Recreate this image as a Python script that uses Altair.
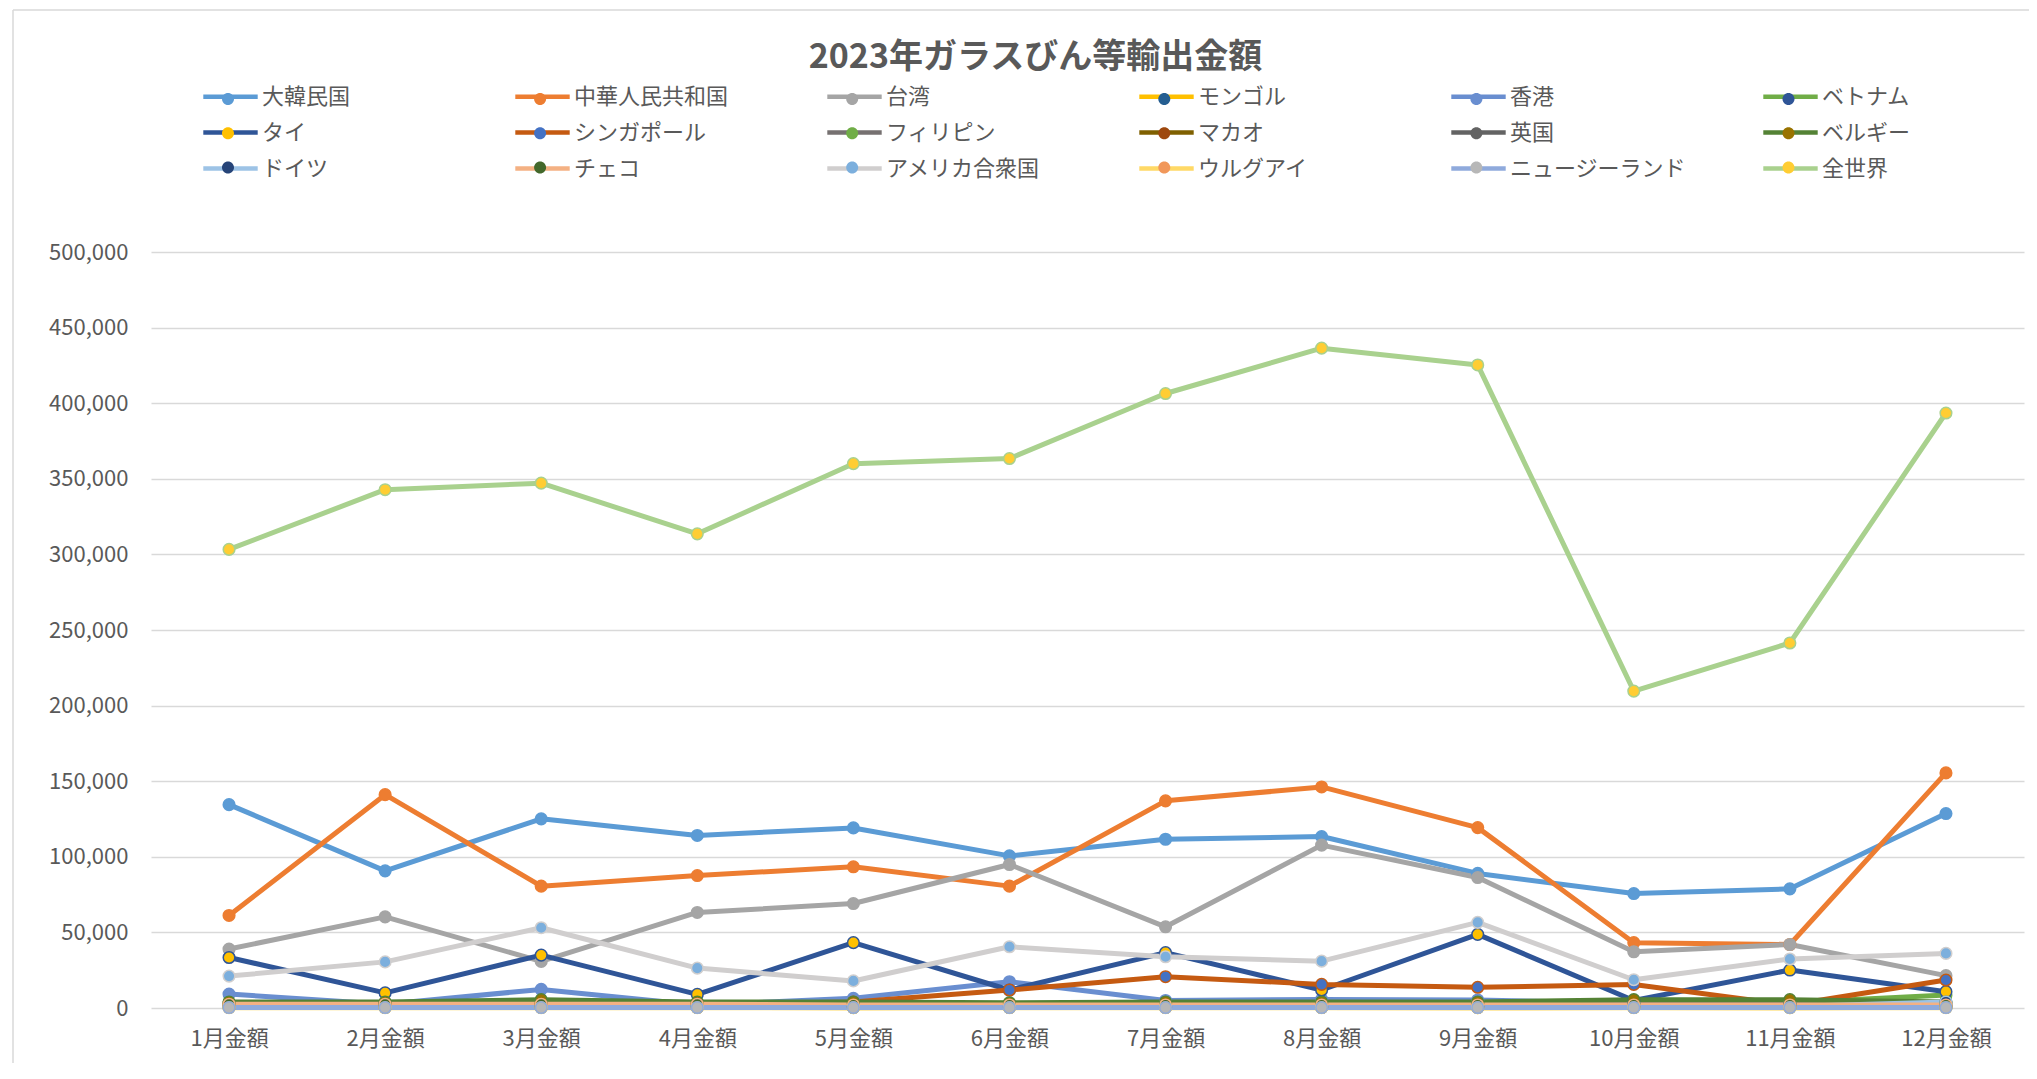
import altair as alt
import pandas as pd

months = ["1月金額", "2月金額", "3月金額", "4月金額", "5月金額", "6月金額",
          "7月金額", "8月金額", "9月金額", "10月金額", "11月金額", "12月金額"]

series_names = ["大韓民国", "中華人民共和国", "台湾", "モンゴル", "香港", "ベトナム",
                "タイ", "シンガポール", "フィリピン", "マカオ", "英国", "ベルギー",
                "ドイツ", "チェコ", "アメリカ合衆国", "ウルグアイ", "ニュージーランド", "全世界"]

line_colors = ["#5B9BD5", "#ED7D31", "#A5A5A5", "#FFC000", "#698ED0", "#70AD47",
               "#2F5597", "#C55A11", "#767171", "#7F6000", "#636363", "#548235",
               "#9DC3E6", "#F4B183", "#D0CECE", "#FFD966", "#8FAADC", "#A9D18E"]

marker_colors = ["#5B9BD5", "#ED7D31", "#A5A5A5", "#255E91", "#698ED0", "#2F5597",
                 "#FFC000", "#4472C4", "#70AD47", "#9E480E", "#636363", "#997300",
                 "#264478", "#43682B", "#7CAFDD", "#F1975A", "#B7B7B7", "#FFCD33"]

korea = [134500, 90700, 125100, 114100, 119100, 100600, 111600, 113400, 89000, 75700, 78800, 128600]
china = [61200, 141100, 80600, 87600, 93400, 80600, 137000, 146200, 119300, 43200, 42000, 155500]
taiwan = [39000, 60300, 30800, 63200, 69100, 94900, 53700, 107700, 86300, 37200, 42000, 21400]
mongolia = [500, 300, 400, 300, 200, 300, 500, 300, 200, 300, 200, 500]
hongkong = [9200, 2500, 12300, 2000, 6400, 17400, 5000, 5700, 5300, 3000, 2500, 2000]
vietnam = [3000, 3000, 3000, 3000, 3000, 2500, 3000, 3500, 3500, 3500, 3500, 8600]
thailand = [33400, 10000, 35000, 9000, 43200, 11900, 36600, 11900, 48700, 5000, 25100, 10800]
singapore = [2000, 2500, 2500, 2500, 4000, 11900, 20700, 15600, 13700, 15600, 2000, 18500]
philippines = [3000, 3000, 3000, 3000, 3000, 3000, 3000, 3000, 3000, 3000, 3000, 3500]
macau = [1000, 1000, 1000, 1000, 1000, 1000, 1000, 1000, 1000, 1000, 1000, 1000]
uk = [300, 300, 300, 300, 300, 300, 300, 300, 300, 300, 300, 300]
belgium = [4000, 4000, 5500, 4000, 4000, 3500, 4000, 4000, 4000, 5500, 5500, 4000]
germany = [1000, 1000, 1000, 1000, 1000, 1000, 1000, 1000, 1000, 1000, 1000, 4000]
czech = [2500, 2500, 2500, 2500, 2000, 2000, 2000, 2000, 2000, 2000, 2000, 2000]
usa = [21100, 30500, 53100, 26400, 17900, 40500, 33900, 31000, 56600, 18700, 32400, 36100]
uruguay = [200, 200, 200, 200, 200, 200, 200, 200, 200, 200, 200, 200]
newzealand = [300, 300, 300, 300, 300, 300, 300, 300, 300, 300, 300, 300]
world = [303300, 342800, 347100, 313600, 360000, 363400, 406400, 436400, 425300, 209600, 241400, 393500]

series_values = [korea, china, taiwan, mongolia, hongkong, vietnam, thailand, singapore,
                 philippines, macau, uk, belgium, germany, czech, usa, uruguay, newzealand, world]

rows = []
for s, vals in zip(series_names, series_values):
    for m, v in zip(months, vals):
        rows.append({"month": m, "series": s, "series_m": s, "value": v})
df = pd.DataFrame(rows)

W, H = 1873, 756
FONT = "Noto Sans CJK JP"
TXT = "#595959"

x_enc = alt.X("month:N", sort=months,
              scale=alt.Scale(type="point", padding=0.5),
              axis=alt.Axis(title=None, domain=False, ticks=False, labelAngle=0,
                            labelFontSize=22, labelColor=TXT, labelPadding=20, grid=False))
y_enc = alt.Y("value:Q",
              scale=alt.Scale(domain=[0, 500000], nice=False),
              axis=alt.Axis(title=None, domain=False, ticks=False,
                            values=list(range(0, 500001, 50000)),
                            labelExpr="format(datum.value, ',')",
                            labelFontSize=22, labelColor=TXT, labelPadding=23,
                            grid=True, gridColor="#D9D9D9", gridWidth=1.5))

common = dict(orient="none", direction="horizontal", columns=6, gridAlign="all",
              symbolSize=1024, labelFontSize=22, labelColor=TXT,
              labelLimit=400, labelOffset=13, title=None, legendX=61, padding=0)

stroke_legend = alt.Legend(symbolType="M-1.7,0L1.7,0", symbolStrokeWidth=4.5,
                           columnPadding=67, rowPadding=6, legendY=-174, zindex=1, **common)
fill_legend = alt.Legend(
    symbolType="M-1,0L-1,0M1,0L1,0M0.375,0A0.375,0.375,0,1,1,-0.375,0A0.375,0.375,0,1,1,0.375,0Z",
    symbolStrokeWidth=0, labelExpr="''", columnPadding=267.1, rowPadding=7.3,
    legendY=-169, zindex=2, **common)

stroke_enc = alt.Stroke("series:N",
                        scale=alt.Scale(domain=series_names, range=line_colors),
                        legend=stroke_legend)

lines = alt.Chart(df).mark_line(strokeWidth=5, strokeCap="round", strokeJoin="round").encode(
    x=x_enc, y=y_enc, stroke=stroke_enc, detail="series:N")

points = alt.Chart(df).mark_circle(size=135, opacity=1, strokeWidth=1.5).encode(
    x=x_enc, y=y_enc, stroke=stroke_enc,
    fill=alt.Fill("series_m:N", sort=series_names,
                  scale=alt.Scale(range=marker_colors), legend=fill_legend))

border_data = alt.Data(values=[{"k": 1}])
left_border = alt.Chart(border_data).mark_rule(color="#D9D9D9", strokeWidth=1.5).encode(
    x=alt.value(-138), y=alt.value(-242), y2=alt.value(H + 60))
top_border = alt.Chart(border_data).mark_rule(color="#D9D9D9", strokeWidth=1.5).encode(
    x=alt.value(-138), x2=alt.value(W + 20), y=alt.value(-242))

chart = alt.layer(left_border, top_border, lines, points).properties(
    width=W, height=H,
    title=alt.TitleParams("2023年ガラスびん等輸出金額", fontSize=34, fontWeight="bold",
                          color=TXT, anchor="middle", dx=-52, dy=93, offset=0,
                          baseline="alphabetic", font=FONT),
    autosize=alt.AutoSizeParams(type="none"),
    padding={"left": 143, "top": 244, "right": 5, "bottom": 55},
).configure(font=FONT).configure_view(stroke=None)

chart.save("out.html", embed_options={"renderer": "svg", "actions": False})
